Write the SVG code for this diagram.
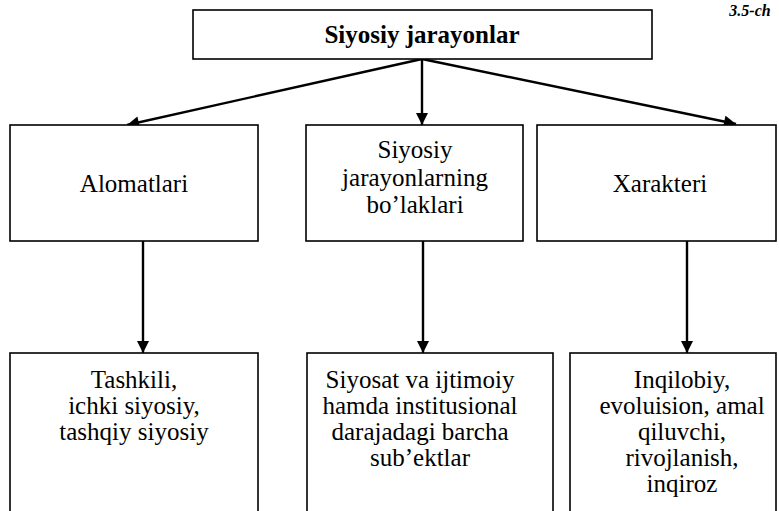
<svg xmlns="http://www.w3.org/2000/svg" width="779" height="511" viewBox="0 0 779 511">
<style>
.box{fill:#fff;stroke:#000;stroke-width:1.6}
.t{font-family:"Liberation Serif","Times New Roman",serif;font-size:25px;fill:#000;text-anchor:middle}
.b{font-weight:bold}
.c{stroke:#000;stroke-width:2.4;fill:none}
</style>
<defs>
<marker id="ah" viewBox="0 0 10 10" refX="10" refY="5" markerWidth="5.5" markerHeight="5" markerUnits="strokeWidth" orient="auto">
<path d="M0,0 L10,5 L0,10 z" fill="#000"/>
</marker>
</defs>
<rect width="779" height="511" fill="#fff"/>
<text class="t b" x="750" y="16" style="font-style:italic;font-size:16px">3.5-ch</text>
<g id="connectors">
<line class="c" x1="422" y1="59" x2="127" y2="125" marker-end="url(#ah)"/>
<line class="c" x1="422" y1="59" x2="422" y2="125" marker-end="url(#ah)"/>
<line class="c" x1="422" y1="59" x2="736" y2="124" marker-end="url(#ah)"/>
<line class="c" x1="143" y1="241" x2="143" y2="353" marker-end="url(#ah)"/>
<line class="c" x1="423" y1="241" x2="423" y2="353" marker-end="url(#ah)"/>
<line class="c" x1="687" y1="241" x2="687" y2="353" marker-end="url(#ah)"/>
</g>
<g id="root">
<rect class="box" x="193" y="10" width="459" height="49"/>
<text class="t b" x="422" y="43">Siyosiy jarayonlar</text>
</g>
<g id="alomatlari">
<rect class="box" x="10" y="125" width="248" height="116"/>
<text class="t" x="134" y="192">Alomatlari</text>
</g>
<g id="bolaklari">
<rect class="box" x="306" y="125" width="217" height="116"/>
<text class="t" x="415" y="158">Siyosiy</text>
<text class="t" x="415" y="186">jarayonlarning</text>
<text class="t" x="415" y="213">bo’laklari</text>
</g>
<g id="xarakteri">
<rect class="box" x="537" y="125" width="239" height="116"/>
<text class="t" x="660" y="192">Xarakteri</text>
</g>
<g id="tashkili">
<rect class="box" x="10" y="353" width="248" height="170"/>
<text class="t" x="134" y="388">Tashkili,</text>
<text class="t" x="134" y="414">ichki siyosiy,</text>
<text class="t" x="134" y="440">tashqiy siyosiy</text>
</g>
<g id="subektlar">
<rect class="box" x="307" y="353" width="246" height="170"/>
<text class="t" x="420" y="388">Siyosat va ijtimoiy</text>
<text class="t" x="420" y="414">hamda institusional</text>
<text class="t" x="420" y="440">darajadagi barcha</text>
<text class="t" x="420" y="466">sub’ektlar</text>
</g>
<g id="inqilobiy">
<rect class="box" x="570" y="353" width="206" height="170"/>
<text class="t" x="682" y="388">Inqilobiy,</text>
<text class="t" x="682" y="414">evoluision, amal</text>
<text class="t" x="682" y="440">qiluvchi,</text>
<text class="t" x="682" y="466">rivojlanish,</text>
<text class="t" x="682" y="492">inqiroz</text>
</g>
</svg>
